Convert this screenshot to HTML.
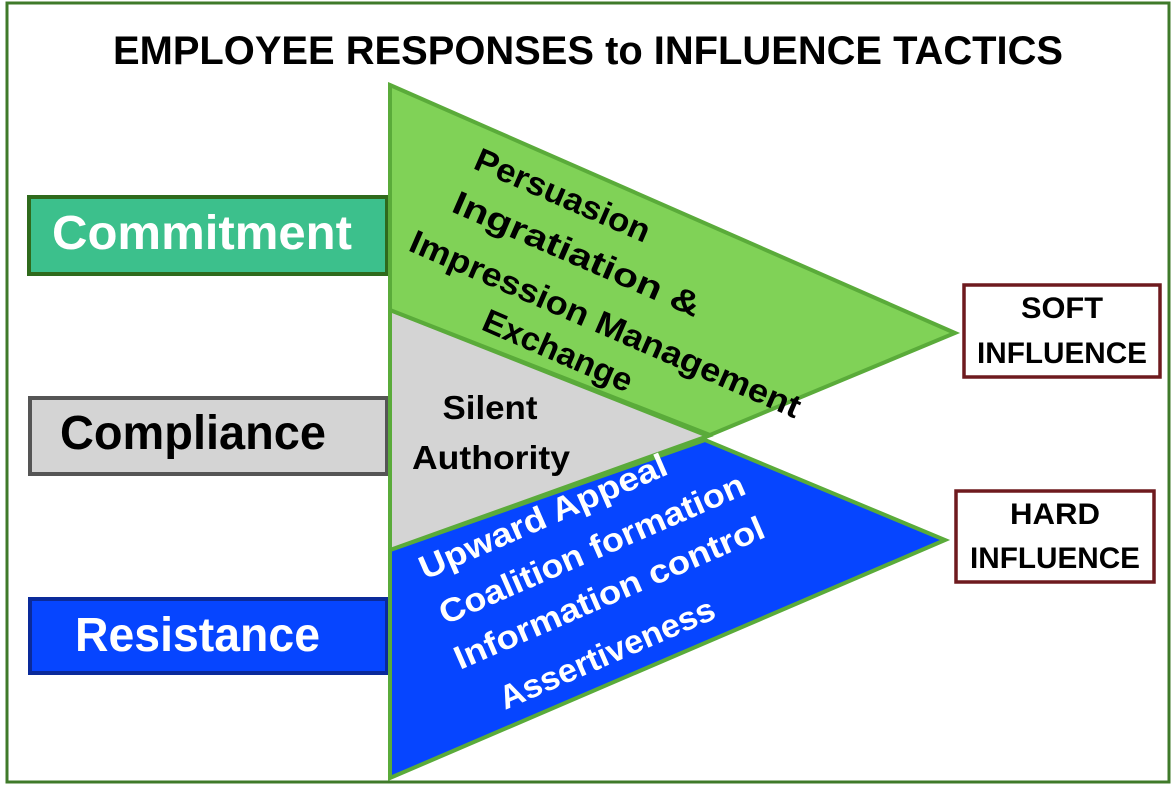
<!DOCTYPE html>
<html><head><meta charset="utf-8"><style>
body{margin:0;background:#fff;}
svg{display:block;font-family:"Liberation Sans",sans-serif;font-weight:bold;}
</style></head><body>
<svg width="1176" height="788" viewBox="0 0 1176 788">
<rect x="0" y="0" width="1176" height="788" fill="#fff"/>
<rect x="7" y="3" width="1162" height="779" fill="none" stroke="#3f7a2a" stroke-width="3"/>
<text x="588" y="64" text-anchor="middle" font-size="40" textLength="950" lengthAdjust="spacingAndGlyphs">EMPLOYEE RESPONSES to INFLUENCE TACTICS</text>

<!-- left boxes -->
<rect x="29" y="197" width="358" height="77" fill="#3cc08c" stroke="#2f6a1c" stroke-width="4"/>
<text x="52" y="249" font-size="48" fill="#fff" textLength="300" lengthAdjust="spacingAndGlyphs">Commitment</text>
<rect x="30" y="398" width="357" height="76" fill="#d4d4d4" stroke="#555" stroke-width="4"/>
<text x="60" y="449" font-size="48" fill="#000" textLength="266" lengthAdjust="spacingAndGlyphs">Compliance</text>
<rect x="30" y="599" width="357" height="74" fill="#0645ff" stroke="#0a2a9a" stroke-width="4"/>
<text x="75" y="651" font-size="48" fill="#fff" textLength="245" lengthAdjust="spacingAndGlyphs">Resistance</text>

<!-- triangles -->
<polygon points="390,550 705,440 945,540 390,778" fill="#0645ff" stroke="#5aab3a" stroke-width="4"/>
<polygon points="390,310 708,436 390,550" fill="#d4d4d4" stroke="#5aab3a" stroke-width="4"/>
<polygon points="390,85 955,333 710,435 390,310" fill="#80d257" stroke="#5aab3a" stroke-width="4"/>

<!-- green text -->
<g font-size="33" fill="#000">
<text transform="translate(472,168) rotate(23.5)" textLength="188" lengthAdjust="spacingAndGlyphs">Persuasion</text>
<text transform="translate(450,211) rotate(23.5)" textLength="267" lengthAdjust="spacingAndGlyphs">Ingratiation &amp;</text>
<text transform="translate(407,250) rotate(23.5)" textLength="423" lengthAdjust="spacingAndGlyphs">Impression Management</text>
<text transform="translate(480,329) rotate(23.5)" textLength="160" lengthAdjust="spacingAndGlyphs">Exchange</text>
</g>
<g font-size="33" fill="#000" text-anchor="middle">
<text x="490" y="419" textLength="95" lengthAdjust="spacingAndGlyphs">Silent</text>
<text x="491" y="469" textLength="158" lengthAdjust="spacingAndGlyphs">Authority</text>
</g>
<!-- blue text -->
<g font-size="33" fill="#fff">
<text transform="translate(425,580) rotate(-23.5)" textLength="267" lengthAdjust="spacingAndGlyphs">Upward Appeal</text>
<text transform="translate(445,625) rotate(-23.5)" textLength="330" lengthAdjust="spacingAndGlyphs">Coalition formation</text>
<text transform="translate(460,670) rotate(-23.5)" textLength="335" lengthAdjust="spacingAndGlyphs">Information control</text>
<text transform="translate(505,710) rotate(-23.5)" textLength="232" lengthAdjust="spacingAndGlyphs">Assertiveness</text>
</g>

<!-- right boxes -->
<rect x="964" y="285" width="196" height="92" fill="#fff" stroke="#6e1a1e" stroke-width="3.5"/>
<text x="1062" y="318" text-anchor="middle" font-size="30" textLength="82" lengthAdjust="spacingAndGlyphs">SOFT</text>
<text x="1062" y="363" text-anchor="middle" font-size="30" textLength="170" lengthAdjust="spacingAndGlyphs">INFLUENCE</text>
<rect x="956" y="491" width="198" height="91" fill="#fff" stroke="#6e1a1e" stroke-width="3.5"/>
<text x="1055" y="524" text-anchor="middle" font-size="30" textLength="90" lengthAdjust="spacingAndGlyphs">HARD</text>
<text x="1055" y="568" text-anchor="middle" font-size="30" textLength="170" lengthAdjust="spacingAndGlyphs">INFLUENCE</text>
</svg>
</body></html>
